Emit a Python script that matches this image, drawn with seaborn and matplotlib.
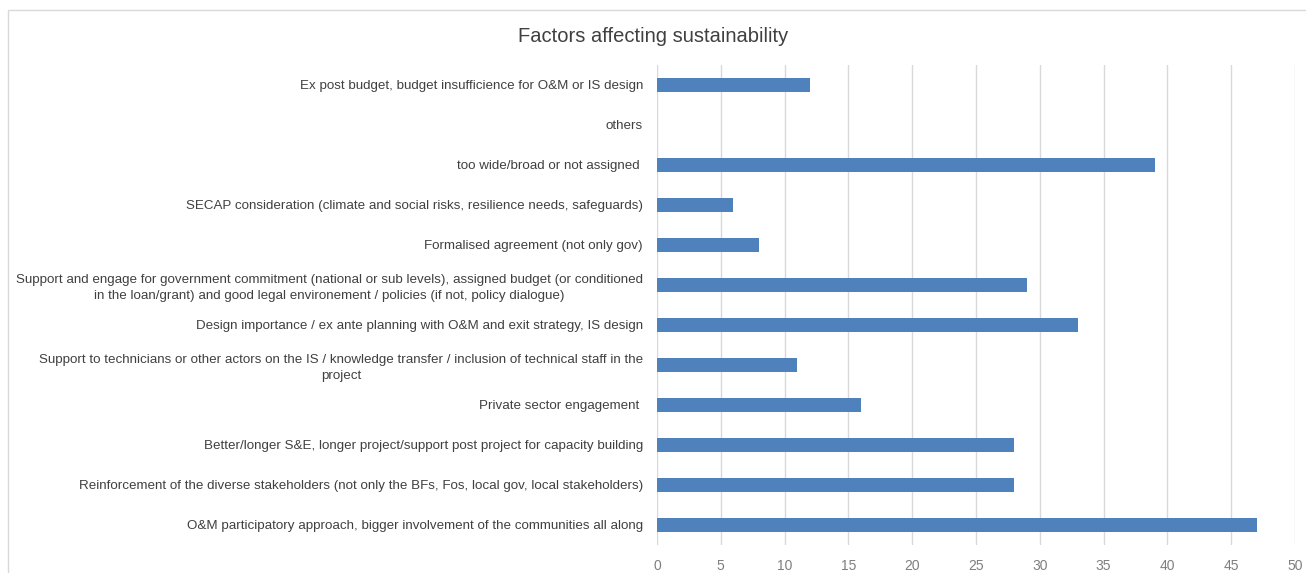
import matplotlib.pyplot as plt
import pandas as pd
import seaborn as sns
from matplotlib.patches import Rectangle


FACTORS = [
    "Ex post budget, budget insufficience for O&M or IS design",
    "others",
    "too wide/broad or not assigned ",
    "SECAP consideration (climate and social risks, resilience needs, safeguards)",
    "Formalised agreement (not only gov)",
    "Support and engage for government commitment (national or sub levels), assigned budget (or conditioned\n"
    "in the loan/grant) and good legal environement / policies (if not, policy dialogue)",
    "Design importance / ex ante planning with O&M and exit strategy, IS design",
    "Support to technicians or other actors on the IS / knowledge transfer / inclusion of technical staff in the\n"
    "project",
    "Private sector engagement ",
    "Better/longer S&E, longer project/support post project for capacity building",
    "Reinforcement of the diverse stakeholders (not only the BFs, Fos, local gov, local stakeholders)",
    "O&M participatory approach, bigger involvement of the communities all along",
]
COUNTS = [12, 0, 39, 6, 8, 29, 33, 11, 16, 28, 28, 47]
X_TICKS = [0, 5, 10, 15, 20, 25, 30, 35, 40, 45, 50]

TITLE = "Factors affecting sustainability"


def main() -> None:
    df = pd.DataFrame({"factor": FACTORS, "count": COUNTS})

    sns.set_theme(style="white")
    plt.rcParams["font.family"] = ["Liberation Sans", "DejaVu Sans"]

    fig = plt.figure(figsize=(13.06, 5.73), dpi=100)
    ax = fig.add_axes([0.503, 0.049, 0.4886, 0.8377])

    sns.barplot(
        data=df,
        x="count",
        y="factor",
        orient="h",
        color="#4f81bd",
        saturation=1,
        width=0.35,
        linewidth=0,
        ax=ax,
    )

    ax.set_xlim(0, 50)
    ax.set_xticks(X_TICKS)
    ax.xaxis.grid(True, color="#d9d9d9", linewidth=1)
    ax.set_axisbelow(True)
    for spine in ax.spines.values():
        spine.set_visible(False)
    ax.set_xlabel("")
    ax.set_ylabel("")
    ax.tick_params(axis="x", colors="#7f7f7f", labelsize=10, length=0, pad=10)
    ax.tick_params(axis="y", colors="#595959", labelsize=9.6, length=0, pad=10)
    for lbl in ax.get_yticklabels():
        lbl.set_multialignment("center")
        lbl.set_linespacing(1.45)
        lbl.set_color("#404040")

    fig.text(0.5, 0.936, TITLE, ha="center", va="center", fontsize=14.5, color="#404040")

    fig.patches.append(
        Rectangle((0.006, -0.01), 1.0, 0.993, transform=fig.transFigure,
                  fill=False, edgecolor="#d9d9d9", linewidth=1)
    )

    fig.savefig("out.png", dpi=100)
    plt.close(fig)


if __name__ == "__main__":
    main()
